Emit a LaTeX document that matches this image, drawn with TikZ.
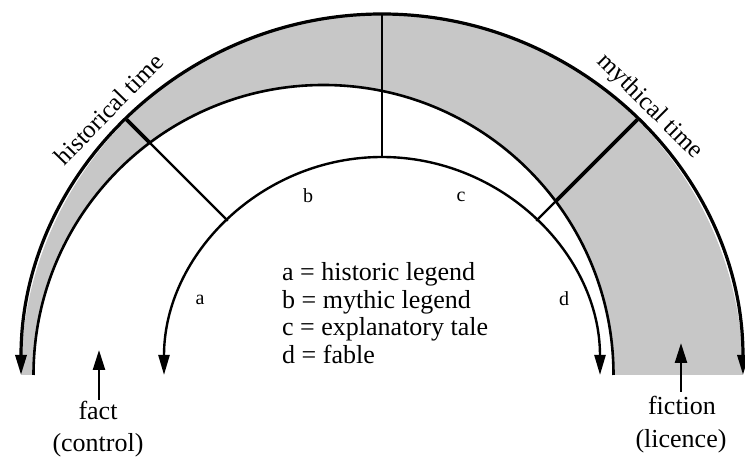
\documentclass[tikz,border=0pt]{standalone}
\usepackage{fontspec}
\setmainfont{Liberation Serif}
\usetikzlibrary{arrows.meta}
\begin{document}
\begin{tikzpicture}[x=1pt,y=1pt,
  band/.style={fill=black!22},
  arcA/.style={line width=3.2pt},
  arcB/.style={line width=2.6pt},
  arcC/.style={line width=2.4pt},
  dbl/.style={{Triangle[width=11pt,length=20pt]}-{Triangle[width=11pt,length=20pt]}},
  uparrow/.style={line width=2.4pt,-{Triangle[width=12pt,length=20pt]}},
  radthick/.style={line width=3.6pt},
  radthin/.style={line width=2.4pt},
  lbl/.style={font=\fontsize{26}{28}\selectfont, inner sep=0pt},
  arclbl/.style={font=\fontsize{25}{28}\selectfont, inner sep=0pt, anchor=base},
  letter/.style={font=\fontsize{20}{22}\selectfont, inner sep=0pt}
]
\useasboundingbox (0,0) rectangle (745,457);
\coordinate (O) at (382,82);
\coordinate (OB) at (323.5,82);
% shaded band between outer arc and middle arc
\fill[band] (21,82) arc[start angle=180,end angle=0,radius=361] -- (613.5,82)
  arc[start angle=0,end angle=180,radius=290] -- cycle;
% arcs
\draw[arcA, dbl] (743,82) arc[start angle=0,end angle=180,radius=361];
\draw[arcB] (613.5,82) arc[start angle=0,end angle=180,radius=290];
\draw[arcC, dbl] (600,82) arc[start angle=0,end angle=180,radius=218];
% radial dividers
\coordinate (LA) at (126.7,337.3);
\coordinate (LB) at (149.8,314.2);
\coordinate (LC) at (227.8,236.2);
\coordinate (RA) at (637.3,337.3);
\coordinate (RB) at (555.7,255.7);
\coordinate (RC) at (536.2,236.2);
\coordinate (TA) at (382,443);
\coordinate (TC) at (382,299);
\draw[radthin] (LB) -- (LC);
\draw[radthick] (LA) -- (LB);
\draw[radthin] (RB) -- (RC);
\draw[radthick] (RA) -- (RB);
\draw[line width=2.8pt] (TA) -- (TC);
% arc labels
\node[arclbl, rotate=45.75] (hist) at (114.8,342.2) {historical time};
\node[arclbl, rotate=-44.9] (myth) at (645.3,346.2) {mythical time};
% region letters
\node[letter] (lb) at (308,261) {b};
\node[letter] (lc) at (461,260) {c};
\node[letter] (la) at (200,157) {a};
\node[letter] (ld) at (564,158) {d};
% legend
\node[lbl, anchor=base west] (k1) at (282,176) {a = historic legend};
\node[lbl, anchor=base west] (k2) at (282,148.5) {b = mythic legend};
\node[lbl, anchor=base west] (k3) at (282,121) {c = explanatory tale};
\node[lbl, anchor=base west] (k4) at (282,93.5) {d = fable};
% fact / fiction
\node[lbl, anchor=base] (fact) at (98,37) {fact};
\node[lbl, anchor=base] (control) at (98,5) {(control)};
\node[lbl, anchor=base] (fiction) at (682,42) {fiction};
\node[lbl, anchor=base] (licence) at (681,9) {(licence)};
\coordinate (factTail) at (99,57);
\coordinate (factTip) at (99,107);
\coordinate (fictionTail) at (681,65);
\coordinate (fictionTip) at (681,114);
\draw[uparrow] (factTail) -- (factTip);
\draw[uparrow] (fictionTail) -- (fictionTip);
\end{tikzpicture}
\end{document}
